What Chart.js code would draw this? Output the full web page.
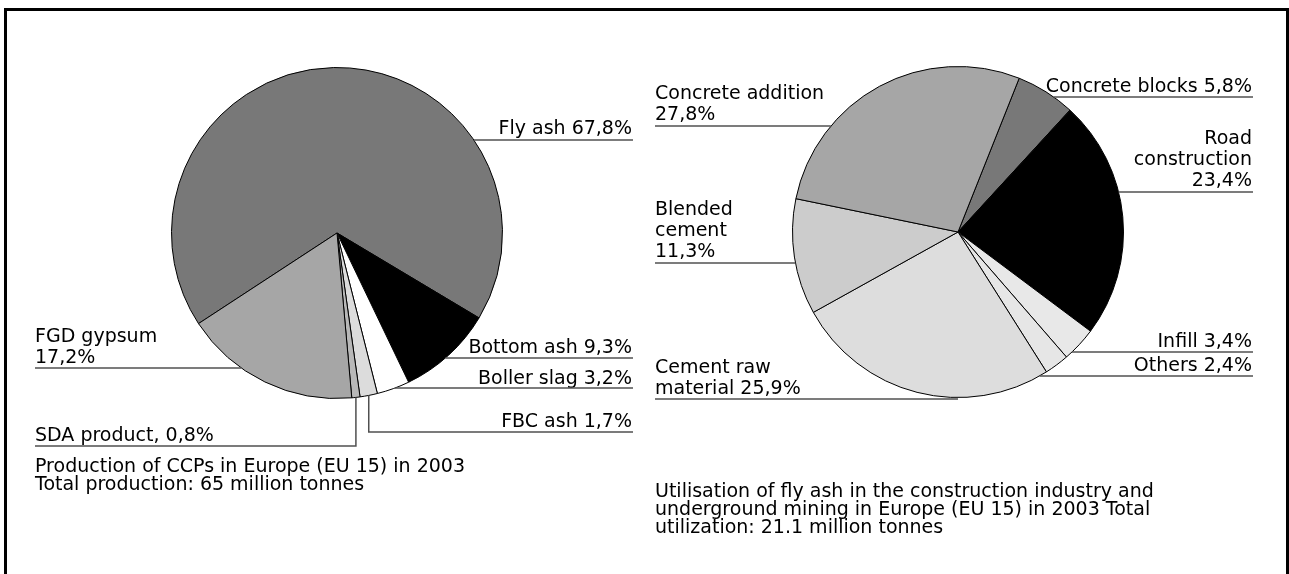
<!DOCTYPE html>
<html>
<head>
<meta charset="utf-8">
<script src="https://cdn.jsdelivr.net/npm/chart.js@4.4.0/dist/chart.umd.min.js"></script>
<style>
  html, body { margin: 0; padding: 0; background: #fff; overflow: hidden; }
  #wrap { position: relative; width: 1289px; height: 574px; }
  #wrap canvas { position: absolute; left: 0; top: 0; }
  #frame { position: absolute; left: 4px; top: 8px; width: 1279px; height: 700px;
           border: 3px solid #000; border-bottom: none; }
</style>
</head>
<body>
<div id="wrap">
  <div id="frame"></div>
  <canvas id="ccpChart" width="1289" height="574"></canvas>
  <canvas id="flyAshChart" width="1289" height="574"></canvas>
</div>
<script>
// production of CCPs, EU 15, 2003 (%)
var ccpLabels = ['Fly ash', 'Bottom ash', 'Boller slag', 'FBC ash', 'SDA product', 'FGD gypsum'];
var ccpValues = [67.8, 9.3, 3.2, 1.7, 0.8, 17.2];

// utilisation of fly ash, EU 15, 2003 (%)
var flyAshLabels = ['Concrete blocks', 'Road construction', 'Infill', 'Others',
                    'Cement raw material', 'Blended cement', 'Concrete addition'];
var flyAshValues = [5.8, 23.4, 3.4, 2.4, 25.9, 11.3, 27.8];

var ccpTitle = ['Production of CCPs in Europe (EU 15) in 2003',
                'Total production: 65 million tonnes'];
var flyAshTitle = ['Utilisation of fly ash in the construction industry and',
                   'underground mining in Europe (EU 15) in 2003 Total',
                   'utilization: 21.1 million tonnes'];

var FONT = '19px "DejaVu Sans"';

function fmt(v) {
    return v.toFixed(1).replace('.', ',') + '%';
}

// draws the labels with their underline leaders and the caption under each pie
var calloutPlugin = {
    id: 'callouts',
    afterDraw: function (chart, args, opts) {
        var ctx = chart.ctx;
        var meta = chart.getDatasetMeta(0);
        var first = meta.data[0];
        var cx = first.x, cy = first.y, r = first.outerRadius;
        var values = chart.data.datasets[0].data;

        ctx.save();
        ctx.font = FONT;
        ctx.fillStyle = '#000';
        ctx.textBaseline = 'alphabetic';
        ctx.strokeStyle = '#505050';
        ctx.lineWidth = 1.5;

        opts.items.forEach(function (it) {
            var v = values[it.i];
            ctx.textAlign = it.align;
            it.text.forEach(function (s, k) {
                ctx.fillText(s.replace('{v}', fmt(v)), it.x, it.y + k * 21);
            });

            var ly = it.lineY;
            ctx.beginPath();
            if (it.elbow) {
                var a = meta.data[it.i];
                var mid = (a.startAngle + a.endAngle) / 2;
                var px = cx + r * Math.cos(mid), py = cy + r * Math.sin(mid);
                ctx.moveTo(px, py);
                ctx.lineTo(px, ly);
                ctx.lineTo(it.align === 'right' ? it.x + 1 : it.x, ly);
            } else {
                var dx = Math.sqrt(Math.max(r * r - (ly - cy) * (ly - cy), 0));
                if (it.align === 'right') {
                    ctx.moveTo(cx + dx, ly);
                    ctx.lineTo(it.x + 1, ly);
                } else {
                    ctx.moveTo(it.x, ly);
                    ctx.lineTo(cx - dx, ly);
                }
            }
            ctx.stroke();
        });

        ctx.textAlign = 'left';
        opts.title.text.forEach(function (s, k) {
            ctx.fillText(s, opts.title.x, opts.title.y + k * 18);
        });
        ctx.restore();
    }
};

function makePie(id, labels, values, colors, rotation, padding, items, title) {
    return new Chart(document.getElementById(id).getContext('2d'), {
        type: 'pie',
        data: {
            labels: labels,
            datasets: [{
                data: values,
                backgroundColor: colors,
                borderColor: '#000',
                borderWidth: 1
            }]
        },
        options: {
            responsive: false,
            animation: false,
            events: [],
            rotation: rotation,
            layout: { padding: padding },
            plugins: {
                legend: { display: false },
                tooltip: { enabled: false },
                callouts: { items: items, title: title }
            }
        },
        plugins: [calloutPlugin]
    });
}

makePie('ccpChart', ccpLabels, ccpValues,
    ['#787878', '#000000', '#ffffff', '#dcdcdc', '#b8b8b8', '#a6a6a6'],
    236.8,
    { left: 171, right: 786, top: 67, bottom: 175 },
    [
        { i: 0, text: ['Fly ash {v}'], align: 'right', x: 632, y: 134, lineY: 140 },
        { i: 5, text: ['FGD gypsum', '{v}'], align: 'left', x: 35, y: 342, lineY: 368 },
        { i: 1, text: ['Bottom ash {v}'], align: 'right', x: 632, y: 353, lineY: 358 },
        { i: 2, text: ['Boller slag {v}'], align: 'right', x: 632, y: 384, lineY: 388 },
        { i: 3, text: ['FBC ash {v}'], align: 'right', x: 632, y: 427, lineY: 432, elbow: true },
        { i: 4, text: ['SDA product, {v}'], align: 'left', x: 35, y: 441, lineY: 446, elbow: true }
    ],
    { text: ccpTitle, x: 35, y: 472 });

makePie('flyAshChart', flyAshLabels, flyAshValues,
    ['#787878', '#000000', '#e8e8e8', '#e6e6e6', '#dddddd', '#cccccc', '#a6a6a6'],
    21.7,
    { left: 792, right: 165, top: 66, bottom: 176 },
    [
        { i: 6, text: ['Concrete addition', '{v}'], align: 'left', x: 655, y: 99, lineY: 126 },
        { i: 0, text: ['Concrete blocks {v}'], align: 'right', x: 1252, y: 92, lineY: 97 },
        { i: 1, text: ['Road', 'construction', '{v}'], align: 'right', x: 1252, y: 144, lineY: 192 },
        { i: 5, text: ['Blended', 'cement', '{v}'], align: 'left', x: 655, y: 215, lineY: 263 },
        { i: 2, text: ['Infill {v}'], align: 'right', x: 1252, y: 347, lineY: 352 },
        { i: 3, text: ['Others {v}'], align: 'right', x: 1252, y: 371, lineY: 376 },
        { i: 4, text: ['Cement raw', 'material {v}'], align: 'left', x: 655, y: 373, lineY: 399 }
    ],
    { text: flyAshTitle, x: 655, y: 497 });
</script>
</body>
</html>
